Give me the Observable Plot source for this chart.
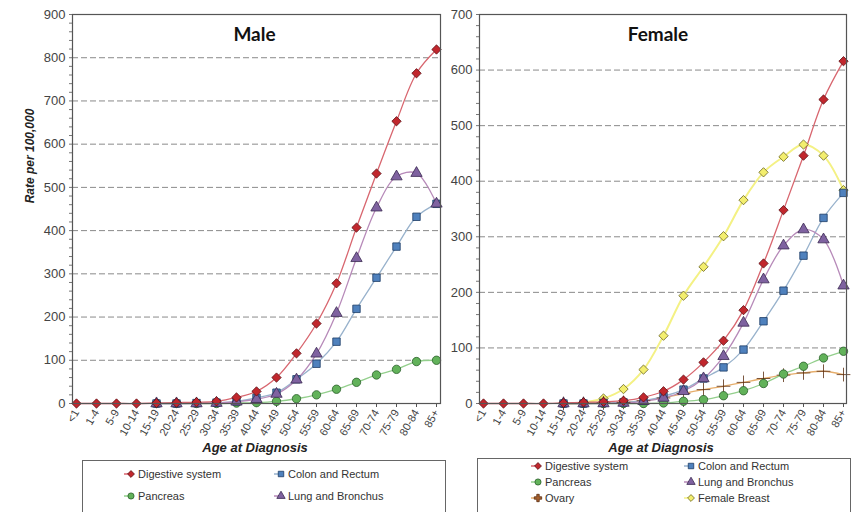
<!DOCTYPE html>
<html>
<head>
<meta charset="utf-8">
<script src="https://cdn.jsdelivr.net/npm/d3@7"></script>
<script src="https://cdn.jsdelivr.net/npm/@observablehq/plot@0.6"></script>
<style>
  html, body { margin: 0; padding: 0; background: #fff; }
  #wrap { position: relative; width: 863px; height: 512px; overflow: hidden; font-family: "Liberation Sans", Arial, sans-serif; }
  .panel { position: absolute; top: 0; }
  .xlabel { position: absolute; font-weight: bold; font-style: italic; font-size: 13px; color: #222; transform: translateX(-50%); white-space: nowrap; }
  .legend { position: absolute; border: 1px solid #666; background: #fff; }
  .item { position: absolute; font-size: 11px; color: #333; white-space: nowrap; display: flex; align-items: center; }
  .item svg { margin-right: 2px; }
</style>
</head>
<body>
<div id="wrap"></div>
<script>
const ages = ["<1","1-4","5-9","10-14","15-19","20-24","25-29","30-34","35-39","40-44","45-49","50-54","55-59","60-64","65-69","70-74","75-79","80-84","85+"];

// Male series (values per 100,000), null = not plotted
const maleDigestive = [0,0,0,0,1,2,3,5,14,28,60,116,185,278,407,532,653,764,819];
const maleColon     = [null,null,null,null,0,0,1,2,5,13,25,56,92,143,219,291,363,432,462];
const malePancreas  = [null,null,null,null,0,0,0,0,1,2,5,11,20,33,49,66,79,97,100];
const maleLung      = [null,null,null,null,0,0,0,1,4,10,22,55,115,209,336,453,525,533,462];

// Female series
const femaleDigestive = [0,0,0,0,1,2,3,5,11,22,43,74,113,168,252,348,446,547,616];
const femaleColon     = [null,null,null,null,0,0,1,2,5,13,25,45,65,97,148,203,266,334,379];
const femalePancreas  = [null,null,null,null,0,0,0,0,0,1,4,7,14,23,36,53,67,82,94];
const femaleLung      = [null,null,null,null,0,0,0,1,4,10,22,45,85,145,223,284,313,295,212];
const femaleOvary     = [null,null,null,null,0,0,1,2,5,10,18,25,31,38,45,51,55,58,52];
const femaleBreast    = [null,null,null,null,0,2,9,26,61,122,194,246,301,366,416,444,466,446,384];

const seriesNames = ["Digestive system","Colon and Rectum","Pancreas","Lung and Bronchus","Ovary","Female Breast"];
const lineColors   = ["#d8666f","#98b2cc","#93cf8c","#b78ab9","#e6ae6c","#f4f184"];
const markerFills  = ["#c1272d","#4f81bd","#62b25a","#7f62a0","#a5602e","#f3ee6e"];
const markerStroke = ["#5c1015","#1d3c66","#2b5f2b","#3a2850","#5a2d10","#6a6520"];
const symbols      = ["diamond2","square","circle","triangle","plus","diamond2"];

function rows(values){ return ages.map((a,i)=>({age:a, value:values[i]})).filter(d=>d.value!=null); }

function seriesMarks(list){
  const marks = [];
  list.forEach(({idx, values}) => {
    marks.push(Plot.line(rows(values), {x:"age", y:"value", stroke: lineColors[idx], strokeWidth: idx===5?2:1.3, curve:"catmull-rom"}));
  });
  list.forEach(({idx, values}) => {
    marks.push(Plot.dot(rows(values), {x:"age", y:"value", symbol: symbols[idx], fill: markerFills[idx], stroke: markerStroke[idx], strokeWidth: 0.8, r: idx===4?4.5:4.2}));
  });
  return marks;
}

function panel(opts){
  const marks = [
    Plot.gridY(d3.range(100, opts.ymax, 100), {stroke: "#8a8a8a", strokeOpacity: 1, strokeDasharray: "6,3"}),
    Plot.axisY(d3.range(0, opts.ymax + 1, 20), {tickSize: 3, tickFormat: () => "", label: null, stroke: "#777"}),
    Plot.axisY(d3.range(0, opts.ymax + 1, 100), {tickSize: 0, tickPadding: 7, fontSize: 13, fill: "#444", label: null}),
    Plot.axisX({tickRotate: -60, tickSize: 4, tickPadding: 3, label: null, fontSize: 11, fill: "#444", stroke: "#555"}),
    ...seriesMarks(opts.series),
    Plot.frame({stroke: "#555", strokeWidth: 1.2}),
    Plot.text([opts.title], {frameAnchor: "top", dy: 13, dx: opts.tdx, fontSize: 19, fontWeight: "bold", fontFamily: "Lato, 'Open Sans', sans-serif", fill: "#111"})
  ];
  if (opts.ylabel) {
    marks.push(Plot.text([opts.ylabel], {frameAnchor: "left", textAnchor: "middle", dx: -42, dy: -53, rotate: -90, fontSize: 12, fontWeight: "bold", fontStyle: "italic", fill: "#222"}));
  }
  return Plot.plot({
    width: opts.width, height: 445,
    marginLeft: opts.ml, marginRight: opts.mr, marginTop: 14, marginBottom: 42,
    style: {fontFamily: "'Liberation Sans', Arial, sans-serif", fontSize: "11px", color: "#333", background: "transparent", overflow: "visible"},
    x: {type: "point", domain: ages, padding: 0},
    y: {domain: [0, opts.ymax]},
    marks
  });
}

const wrap = document.getElementById("wrap");

const left = panel({width: 450, ml: 72, mr: 10, ymax: 900, ylabel: "Rate per 100,000", title: "Male", tdx: -2,
  series: [{idx:2, values: malePancreas},{idx:1, values: maleColon},{idx:3, values: maleLung},{idx:0, values: maleDigestive}]});
left.classList.add("panel"); left.style.left = "0px";
wrap.appendChild(left);

const right = panel({width: 423, ml: 39, mr: 17, ymax: 700, ylabel: null, title: "Female", tdx: -5,
  series: [{idx:5, values: femaleBreast},{idx:4, values: femaleOvary},{idx:2, values: femalePancreas},{idx:1, values: femaleColon},{idx:3, values: femaleLung},{idx:0, values: femaleDigestive}]});
right.classList.add("panel"); right.style.left = "440px";
wrap.appendChild(right);

function addXLabel(x){
  const d = document.createElement("div"); d.className = "xlabel"; d.textContent = "Age at Diagnosis";
  d.style.left = x + "px"; d.style.top = "440px"; wrap.appendChild(d);
}
addXLabel(255); addXLabel(661);

function legendSymbol(idx){
  const svgNS = "http://www.w3.org/2000/svg";
  const svg = document.createElementNS(svgNS, "svg");
  svg.setAttribute("width", 12); svg.setAttribute("height", 10);
  const line = document.createElementNS(svgNS, "line");
  line.setAttribute("x1", 0); line.setAttribute("x2", 6); line.setAttribute("y1", 5); line.setAttribute("y2", 5);
  line.setAttribute("stroke", lineColors[idx]); line.setAttribute("stroke-width", 1.5);
  svg.appendChild(line);
  const typeMap = {diamond2: d3.symbolDiamond2, square: d3.symbolSquare, circle: d3.symbolCircle, triangle: d3.symbolTriangle, plus: d3.symbolCross};
  const p = document.createElementNS(svgNS, "path");
  p.setAttribute("d", d3.symbol(typeMap[symbols[idx]], 30)());
  p.setAttribute("transform", "translate(7,5)");
  p.setAttribute("fill", markerFills[idx]); p.setAttribute("stroke", markerStroke[idx]); p.setAttribute("stroke-width", 0.8);
  svg.appendChild(p);
  return svg;
}

function legend(box, items){
  const l = document.createElement("div"); l.className = "legend";
  Object.assign(l.style, {left: box.x+"px", top: box.y+"px", width: box.w+"px", height: box.h+"px"});
  wrap.appendChild(l);
  items.forEach(it => {
    const d = document.createElement("div"); d.className = "item";
    d.style.left = it.x + "px"; d.style.top = (it.y - 7) + "px";
    d.appendChild(legendSymbol(it.idx));
    const s = document.createElement("span"); s.textContent = seriesNames[it.idx];
    d.appendChild(s); wrap.appendChild(d);
  });
}

legend({x: 82, y: 460, w: 362, h: 80}, [
  {idx:0, x:124, y:475}, {idx:1, x:274, y:475},
  {idx:2, x:124, y:497}, {idx:3, x:274, y:497}
]);
legend({x: 477, y: 458, w: 372, h: 80}, [
  {idx:0, x:531, y:467}, {idx:1, x:684, y:467},
  {idx:2, x:531, y:483}, {idx:3, x:684, y:483},
  {idx:4, x:531, y:499}, {idx:5, x:684, y:499}
]);
</script>
</body>
</html>
